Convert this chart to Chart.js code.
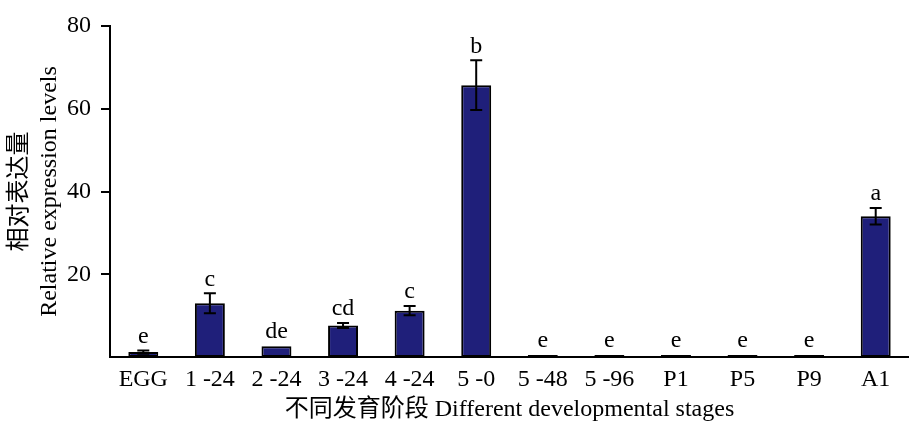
<!DOCTYPE html>
<html>
<head>
<meta charset="utf-8">
<script src="https://cdn.jsdelivr.net/npm/chart.js@4"></script>
<style>
  body { margin: 0; background: #fff; }
  #wrap { width: 909px; height: 424px; }
</style>
</head>
<body>
<div id="wrap"><canvas id="grafico" width="909" height="424"></canvas></div>
<script>
// datos
const etapas = ['EGG', '1 -24', '2 -24', '3 -24', '4 -24', '5 -0', '5 -48', '5 -96', 'P1', 'P5', 'P9', 'A1'];
const expresion = [1.2, 13.0, 2.6, 7.6, 11.2, 65.7, 0.5, 0.5, 0.5, 0.5, 0.5, 34.0];
const errores = [0.4, 2.4, 0.2, 0.6, 1.1, 6.0, 0.1, 0.1, 0.1, 0.1, 0.1, 2.0];
const letras = ['e', 'c', 'de', 'cd', 'c', 'b', 'e', 'e', 'e', 'e', 'e', 'a'];
const yTicks = [20, 40, 60, 80];

const fuente = "'Liberation Serif', 'Noto Sans CJK SC', serif";

// barras de error y letras de significancia
const errorBars = {
    id: 'errorBars',
    afterDatasetsDraw(chart) {
        const ctx = chart.ctx;
        const y = chart.scales.y;
        const meta = chart.getDatasetMeta(0);
        ctx.save();
        ctx.strokeStyle = '#000';
        ctx.lineWidth = 2;
        ctx.fillStyle = '#000';
        ctx.font = '24px ' + fuente;
        ctx.textAlign = 'center';
        ctx.textBaseline = 'bottom';
        meta.data.forEach((bar, i) => {
            const top = y.getPixelForValue(expresion[i] + errores[i]);
            const bot = y.getPixelForValue(Math.max(0, expresion[i] - errores[i]));
            if (errores[i] > 0.3) {
                ctx.beginPath();
                ctx.moveTo(bar.x, top); ctx.lineTo(bar.x, bot);
                ctx.moveTo(bar.x - 6, top); ctx.lineTo(bar.x + 6, top);
                ctx.moveTo(bar.x - 6, bot); ctx.lineTo(bar.x + 6, bot);
                ctx.stroke();
            }
            ctx.fillText(letras[i], bar.x, top - 2);
        });
        ctx.restore();
    }
};

new Chart(document.getElementById('grafico').getContext('2d'), {
    type: 'bar',
    data: {
        labels: etapas,
        datasets: [{
            data: expresion,
            backgroundColor: '#1f1f7a',
            borderColor: '#000',
            borderWidth: 2,
            borderSkipped: false,
            barPercentage: 0.9,
            categoryPercentage: 0.5
        }]
    },
    options: {
        responsive: false,
        animation: false,
        layout: { padding: { top: 26, right: 0, left: 0, bottom: 0 } },
        plugins: {
            legend: { display: false },
            tooltip: { enabled: false }
        },
        scales: {
            x: {
                grid: { display: false, drawTicks: false },
                border: { display: true, color: '#000', width: 2 },
                ticks: { color: '#000', font: { family: fuente, size: 24 }, padding: 8, maxRotation: 0 },
                title: {
                    display: true,
                    text: '不同发育阶段 Different developmental stages',
                    color: '#000',
                    font: { family: fuente, size: 24 },
                    padding: { top: 0, bottom: 0 }
                },
                afterFit: scale => { scale.height = 67; }
            },
            y: {
                min: 0,
                max: 80,
                afterBuildTicks: scale => { scale.ticks = yTicks.map(v => ({ value: v })); },
                grid: { drawOnChartArea: false, drawTicks: true, tickLength: 9, color: '#000', lineWidth: 2 },
                border: { display: true, color: '#000', width: 2 },
                ticks: { color: '#000', font: { family: fuente, size: 24 }, padding: 10 },
                title: {
                    display: true,
                    text: ['相对表达量', 'Relative expression levels'],
                    color: '#000',
                    font: { family: fuente, size: 24, lineHeight: 1.25 },
                    padding: { top: 5, bottom: 0 }
                },
                afterFit: scale => { scale.width = 110; }
            }
        }
    },
    plugins: [errorBars]
});
</script>
</body>
</html>
